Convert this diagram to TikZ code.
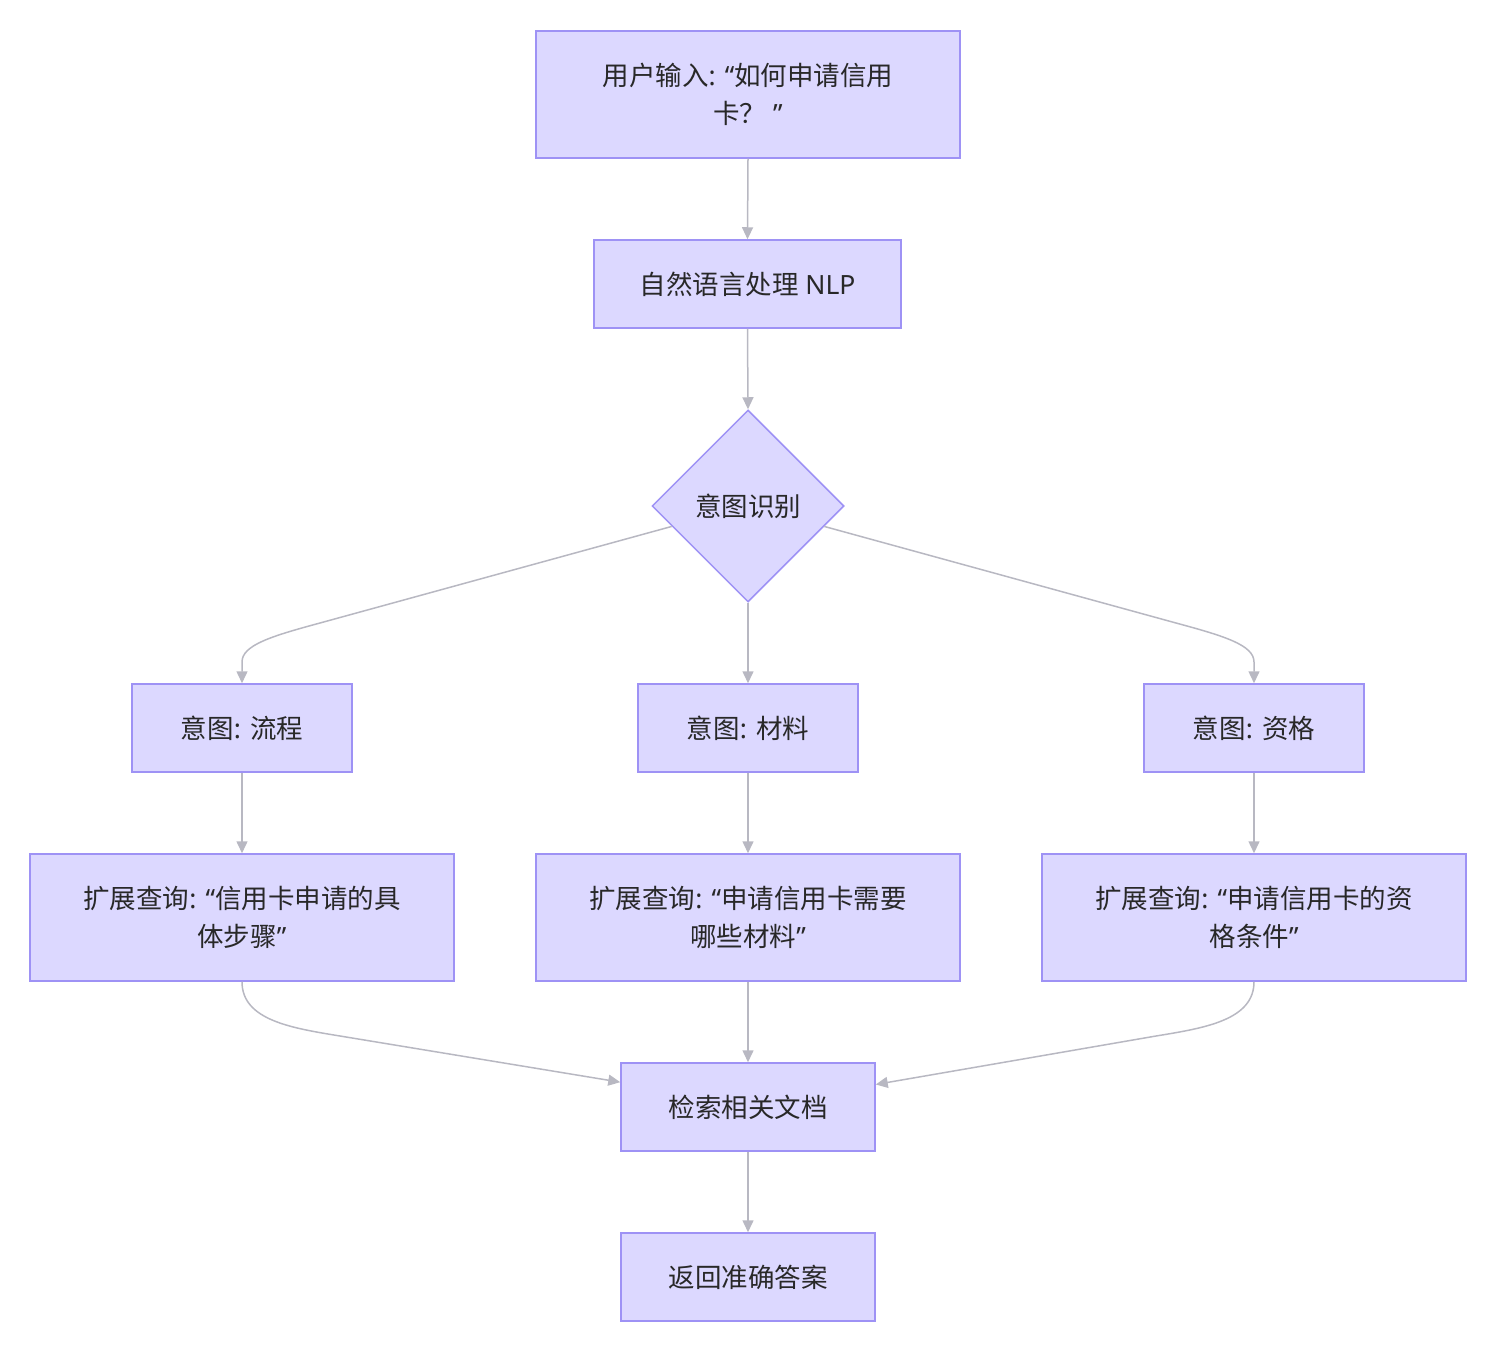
\documentclass[tikz,border=0pt]{standalone}
\usepackage{fontspec}
\setmainfont{Noto Sans CJK SC}
\newfontfamily\lat{Noto Sans}
\usetikzlibrary{shapes.geometric,arrows.meta}
\definecolor{boxfill}{RGB}{220,216,255}
\definecolor{boxline}{RGB}{158,146,245}
\definecolor{edgecol}{RGB}{184,184,194}
\definecolor{txt}{RGB}{40,40,40}
\tikzset{
  box/.style={draw=boxline, fill=boxfill, line width=1.5pt, inner sep=0pt, align=center,
    text=txt, font=\fontsize{26.5}{38}\selectfont},
  smallbox/.style={box, minimum width=220pt, minimum height=88pt},
  widebox/.style={box, minimum width=424pt, minimum height=127pt},
  midbox/.style={box, minimum width=254pt, minimum height=88pt},
  dia/.style={box, diamond, minimum width=192pt, minimum height=192pt, aspect=1},
  conn/.style={draw=edgecol, line width=1.5pt, -{Triangle[length=12pt,width=11pt]}}
}
\begin{document}
\begin{tikzpicture}[x=1pt,y=-1pt]
\useasboundingbox (0,0) rectangle (1512,1372);
\node[widebox] (user) at (748,94.5) {用户输入{\lat: “}如何申请信用\\卡？{\lat\ ”}};
\node[box, minimum width=307pt, minimum height=88pt] (nlp) at (747.5,284) {自然语言处理{\lat\ NLP}};
\node[dia] (intent) at (748,506) {意图识别};
\node[smallbox] (ia) at (242,728) {意图{\lat: }流程};
\node[smallbox] (ib) at (748,728) {意图{\lat: }材料};
\node[smallbox] (ic) at (1254,728) {意图{\lat: }资格};
\node[widebox] (ea) at (242,917.5) {扩展查询{\lat: “}信用卡申请的具\\体步骤{\lat ”}};
\node[widebox] (eb) at (748,917.5) {扩展查询{\lat: “}申请信用卡需要\\哪些材料{\lat ”}};
\node[widebox] (ec) at (1254,917.5) {扩展查询{\lat: “}申请信用卡的资\\格条件{\lat ”}};
\node[midbox] (ret) at (748,1107) {检索相关文档};
\node[midbox] (ans) at (748,1277) {返回准确答案};

\coordinate (la) at (320,623);
\coordinate (lb) at (242,662);
\coordinate (ra) at (1176,623);
\coordinate (rb) at (1254,662);
\coordinate (lc) at (340,1036);
\coordinate (rc) at (1156,1036);

\draw[conn] (user.south) -- (nlp.north);
\draw[conn] (nlp.south) -- (intent.north);
\draw[conn] (intent.195) -- (la) .. controls (272,636) and (242,645) .. (lb) -- (ia.north);
\draw[conn] (intent.-15) -- (ra) .. controls (1224,636) and (1254,645) .. (rb) -- (ic.north);
\draw[conn] (intent.south) -- (ib.north);
\draw[conn] (ia.south) -- (ea.north);
\draw[conn] (ib.south) -- (eb.north);
\draw[conn] (ic.south) -- (ec.north);
\draw[conn] (ea.south) .. controls (242,1020) and (291,1028) .. (lc) -- (ret.169.3);
\draw[conn] (ec.south) .. controls (1254,1020) and (1205,1028) .. (rc) -- (ret.10.7);
\draw[conn] (eb.south) -- (ret.north);
\draw[conn] (ret.south) -- (ans.north);
\end{tikzpicture}
\end{document}
